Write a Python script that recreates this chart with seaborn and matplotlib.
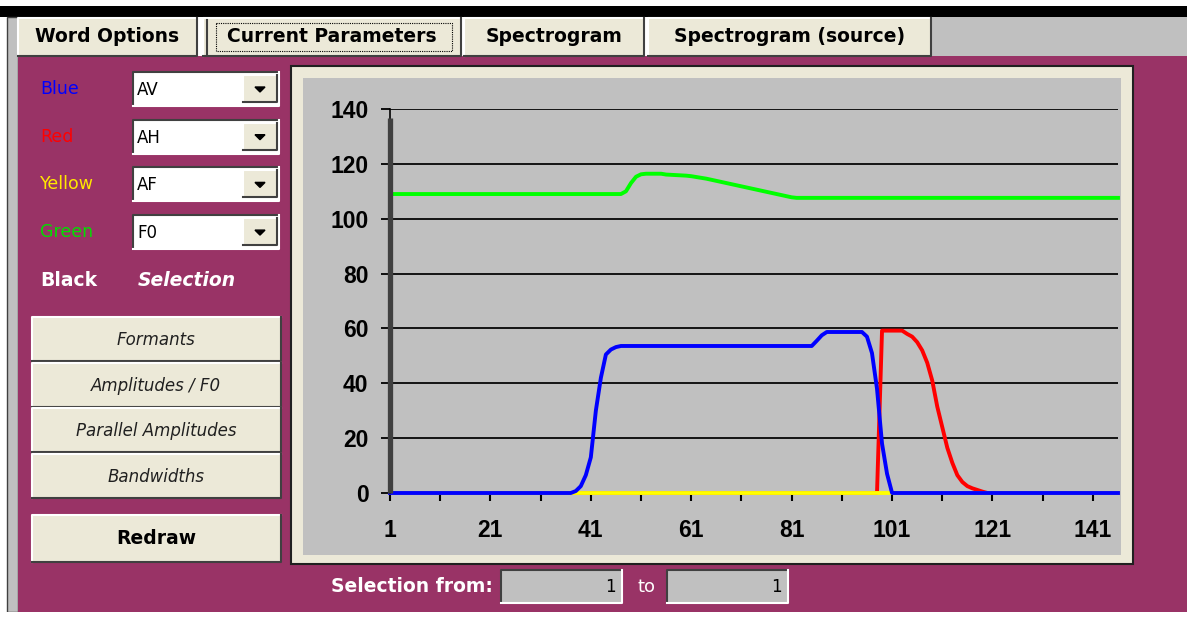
import numpy as np
import pandas as pd
import seaborn as sns
import matplotlib
matplotlib.use("Agg")
import matplotlib.pyplot as plt
from matplotlib.patches import Rectangle, Polygon

# ---- data ----
frames = list(range(1, 147))

av_blue = ([0] * 37
           + [0.7, 2.5, 6.5, 13, 30, 42, 50.5, 52.3, 53.2]
           + [53.6] * 39
           + [55.5, 57.5]
           + [58.7] * 8
           + [57, 51, 38, 18, 7]
           + [0] * 46)

ah_red = ([0] * 98
          + [59.2] * 5
          + [58, 57, 55, 52, 47.5, 41, 31.5, 24, 16.5, 11, 6.5, 4, 2.5, 1.7, 1.1, 0.5]
          + [0] * 27)

af_yellow = [0] * 146

f0_green = ([109] * 47
            + [110, 113, 115.3, 116.2, 116.4, 116.4, 116.4, 116.4, 116.1, 116.0,
               115.9, 115.8, 115.7, 115.5, 115.2, 114.9, 114.6, 114.2, 113.8, 113.4,
               113.0, 112.6, 112.2, 111.8, 111.4, 111.0, 110.6, 110.2, 109.8, 109.4,
               109.0, 108.6, 108.2, 107.8]
            + [107.6] * 65)

selection_x = [1, 1]
selection_y = [0, 136.6]

series_names = ['AH', 'AF', 'AV', 'F0']
series_colors = ['#FF0000', '#FFFF00', '#0000FF', '#00FF00']
y_ticks = [0, 20, 40, 60, 80, 100, 120, 140]
x_major = [1, 21, 41, 61, 81, 101, 121, 141]
x_minor = [11, 31, 51, 71, 91, 111, 131]

tab_labels = ['Word Options', 'Current Parameters', 'Spectrogram', 'Spectrogram (source)']
color_labels = ['Blue', 'Red', 'Yellow', 'Green']
color_label_colors = ['#0000FF', '#FF0000', '#FFE800', '#00E000']
param_choices = ['AV', 'AH', 'AF', 'F0']
button_labels = ['Formants', 'Amplitudes / F0', 'Parallel Amplitudes', 'Bandwidths']
sel_from, sel_to = '1', '1'

W, H = 1187, 619
PURPLE = '#993366'
BEIGE = '#ECE9D8'
GRAY = '#C0C0C0'
DARK = '#404040'
UI_FONT = 'DejaVu Sans'

fig = plt.figure(figsize=(W / 100, H / 100), dpi=100)
fig.patch.set_facecolor('white')

# background "window" drawn in pixel coordinates
bg = fig.add_axes([0, 0, 1, 1])
bg.set_xlim(0, W)
bg.set_ylim(H, 0)
bg.axis('off')


def rect(x0, y0, x1, y1, fc, ec='none', lw=0, z=1, ls='-'):
    bg.add_patch(Rectangle((x0, y0), x1 - x0, y1 - y0, facecolor=fc, edgecolor=ec,
                           linewidth=lw, zorder=z, linestyle=ls))


def bevel(x0, y0, x1, y1, fc, raised=True, z=2):
    rect(x0, y0, x1, y1, fc, z=z)
    hi, lo = ('white', DARK) if raised else (DARK, 'white')
    bg.plot([x0, x0, x1], [y1, y0, y0], color=hi, lw=1.5, zorder=z + 0.1)
    bg.plot([x0, x1, x1], [y1, y1, y0], color=lo, lw=1.5, zorder=z + 0.1)


# outer frame
rect(0, 6, W, 17, 'black')
rect(7, 17, 18, 612, GRAY, ec=DARK, lw=1)
rect(18, 56, W, 612, PURPLE)
rect(0, 612, W, H, 'white')

# tabs
rect(931, 17, W, 56, GRAY)
tab_spans = [(18, 197), (203, 461), (464, 644), (648, 931)]
for (tx0, tx1), lab in zip(tab_spans, tab_labels):
    bevel(tx0, 18, tx1, 56, BEIGE)
    bg.text((tx0 + tx1) / 2, 37, lab, ha='center', va='center', fontsize=13.5,
            fontweight='bold', family=UI_FONT, color='black', zorder=5)
bg.plot([207, 207], [20, 54], color=DARK, lw=1.5, zorder=4)
rect(216, 23, 452, 51, 'none', ec='black', lw=0.8, z=4, ls=(0, (1, 1)))

# colour / parameter selectors
for k, (lab, col, choice) in enumerate(zip(color_labels, color_label_colors, param_choices)):
    yc = 89 + k * 47.7
    bg.text(40, yc, lab, ha='left', va='center', fontsize=12.5, family=UI_FONT,
            color=col, zorder=5)
    bevel(133, yc - 17, 279, yc + 17, 'white', raised=False)
    bg.text(137, yc + 1, choice, ha='left', va='center', fontsize=12, family=UI_FONT,
            color='black', zorder=5)
    bevel(243, yc - 14, 277, yc + 13, BEIGE)
    bg.add_patch(Polygon([[255, yc - 2], [265, yc - 2], [260, yc + 3]],
                         closed=True, color='black', zorder=5))

bg.text(40, 281, 'Black', ha='left', va='center', fontsize=13.5, fontweight='bold',
        family=UI_FONT, color='white', zorder=5)
bg.text(138, 281, 'Selection', ha='left', va='center', fontsize=13.5,
        fontweight='bold', style='italic', family=UI_FONT, color='white', zorder=5)

# buttons
for k, lab in enumerate(button_labels):
    y0 = 317 + k * 45.7
    bevel(32, y0, 281, y0 + 44, BEIGE)
    bg.text(156, y0 + 23, lab, ha='center', va='center', fontsize=12,
            style='italic', family=UI_FONT, color='#202020', zorder=5)
bevel(32, 515, 281, 562, BEIGE)
bg.text(156, 539, 'Redraw', ha='center', va='center', fontsize=13.5,
        fontweight='bold', family=UI_FONT, color='black', zorder=5)

# chart frame
rect(291, 66, 1133, 564, BEIGE, ec='#202020', lw=1.5)
rect(303, 78, 1121, 555, GRAY, z=1.5)

# selection boxes
bg.text(493, 587, 'Selection from:', ha='right', va='center', fontsize=13.5,
        fontweight='bold', family=UI_FONT, color='white', zorder=5)
bevel(501, 570, 622, 603, GRAY, raised=False)
bg.text(616, 587, sel_from, ha='right', va='center', fontsize=12, family=UI_FONT,
        color='black', zorder=5)
bg.text(637, 587, 'to', ha='left', va='center', fontsize=13, family=UI_FONT,
        color='white', zorder=5)
bevel(667, 570, 788, 603, GRAY, raised=False)
bg.text(782, 587, sel_to, ha='right', va='center', fontsize=12, family=UI_FONT,
        color='black', zorder=5)

# ---- the chart ----
ax = fig.add_axes([390 / W, (H - 493) / H, 728 / W, 384 / H])
ax.patch.set_visible(False)

df = pd.DataFrame({
    'frame': frames * 4,
    'value': ah_red + af_yellow + av_blue + f0_green,
    'param': [n for n in series_names for _ in frames],
})
sns.lineplot(data=df, x='frame', y='value', hue='param', hue_order=series_names,
             palette=dict(zip(series_names, series_colors)), estimator=None,
             sort=False, linewidth=2.8, legend=False, ax=ax)
ax.plot(selection_x, selection_y, color=DARK, lw=3.8, solid_capstyle='butt', zorder=5)
for line in ax.lines:
    line.set_clip_on(False)

ax.set_xlim(1, 146)
ax.set_ylim(0, 140)
ax.set_yticks(y_ticks)
ax.set_xticks(x_major)
ax.set_xticks(x_minor, minor=True)
ax.grid(axis='y', color='#141414', lw=1.4)
ax.set_axisbelow(True)
ax.set_xlabel('')
ax.set_ylabel('')
for side in ['top', 'right', 'bottom']:
    ax.spines[side].set_visible(False)
ax.spines['left'].set_color('black')
ax.spines['left'].set_linewidth(1.2)

tick_font = {'family': 'Liberation Sans', 'weight': 'bold', 'size': 16.5}
ax.set_yticklabels([str(v) for v in y_ticks], fontdict=tick_font)
ax.set_xticklabels([str(v) for v in x_major], fontdict=tick_font)
ax.tick_params(axis='y', length=6.5, width=1.3, color='black', pad=9)
ax.tick_params(axis='x', which='both', direction='out', length=5.5, width=1.5,
               color='black', pad=13)
ax.tick_params(axis='x', which='minor', length=5.5, width=1.5)

fig.savefig('out.png', dpi=100, facecolor=fig.get_facecolor())
